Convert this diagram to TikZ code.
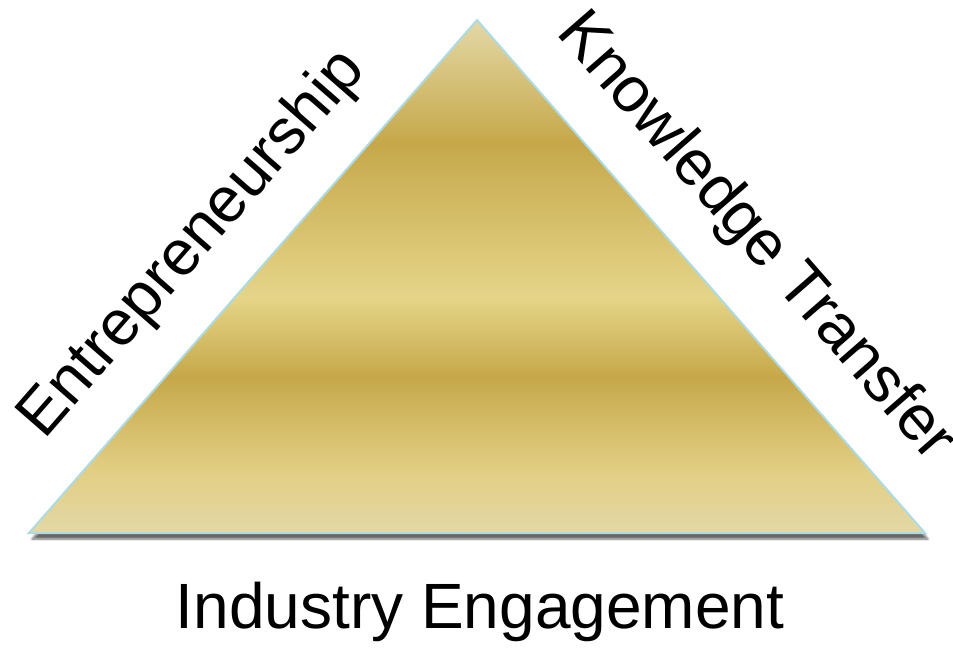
\documentclass[tikz,border=0pt]{standalone}
\usepackage{fontspec}
\setmainfont{Liberation Sans}
\usetikzlibrary{shadows.blur}
\definecolor{gA}{HTML}{E3D8A6}
\definecolor{gB}{HTML}{E2CF84}
\definecolor{gD}{HTML}{C6A84A}
\definecolor{gL}{HTML}{E5D589}
\definecolor{edgeblue}{HTML}{ADDBE3}
\pgfdeclareverticalshading{goldbands}{100bp}{%
  color(0bp)=(gA); color(25bp)=(gA); color(31bp)=(gB); color(40.2bp)=(gD);
  color(48bp)=(gL); color(63bp)=(gD); color(75bp)=(gA); color(100bp)=(gA)}
\tikzset{
  lbl/.style={font=\fontsize{64}{70}\selectfont, inner sep=0pt},
}
\begin{document}
\begin{tikzpicture}[x=1pt,y=-1pt]
\useasboundingbox (0,0) rectangle (953,652);
\coordinate (apex) at (477,20);
\coordinate (bl) at (29,533);
\coordinate (br) at (925,533);
\path[shading=goldbands, draw=edgeblue, line width=2pt, line join=miter,
  blur shadow={shadow xshift=3pt, shadow yshift=-6pt, shadow blur steps=6, shadow opacity=60}]
  (apex) -- (br) -- (bl) -- cycle;
\node[lbl, rotate=48.9] (ent) at (193,245) {Entrepreneurship};
\node[lbl, rotate=-48.9] (kt) at (755,238) {Knowledge Transfer};
\node[lbl] (ie) at (480,612) {Industry Engagement};
\end{tikzpicture}
\end{document}
